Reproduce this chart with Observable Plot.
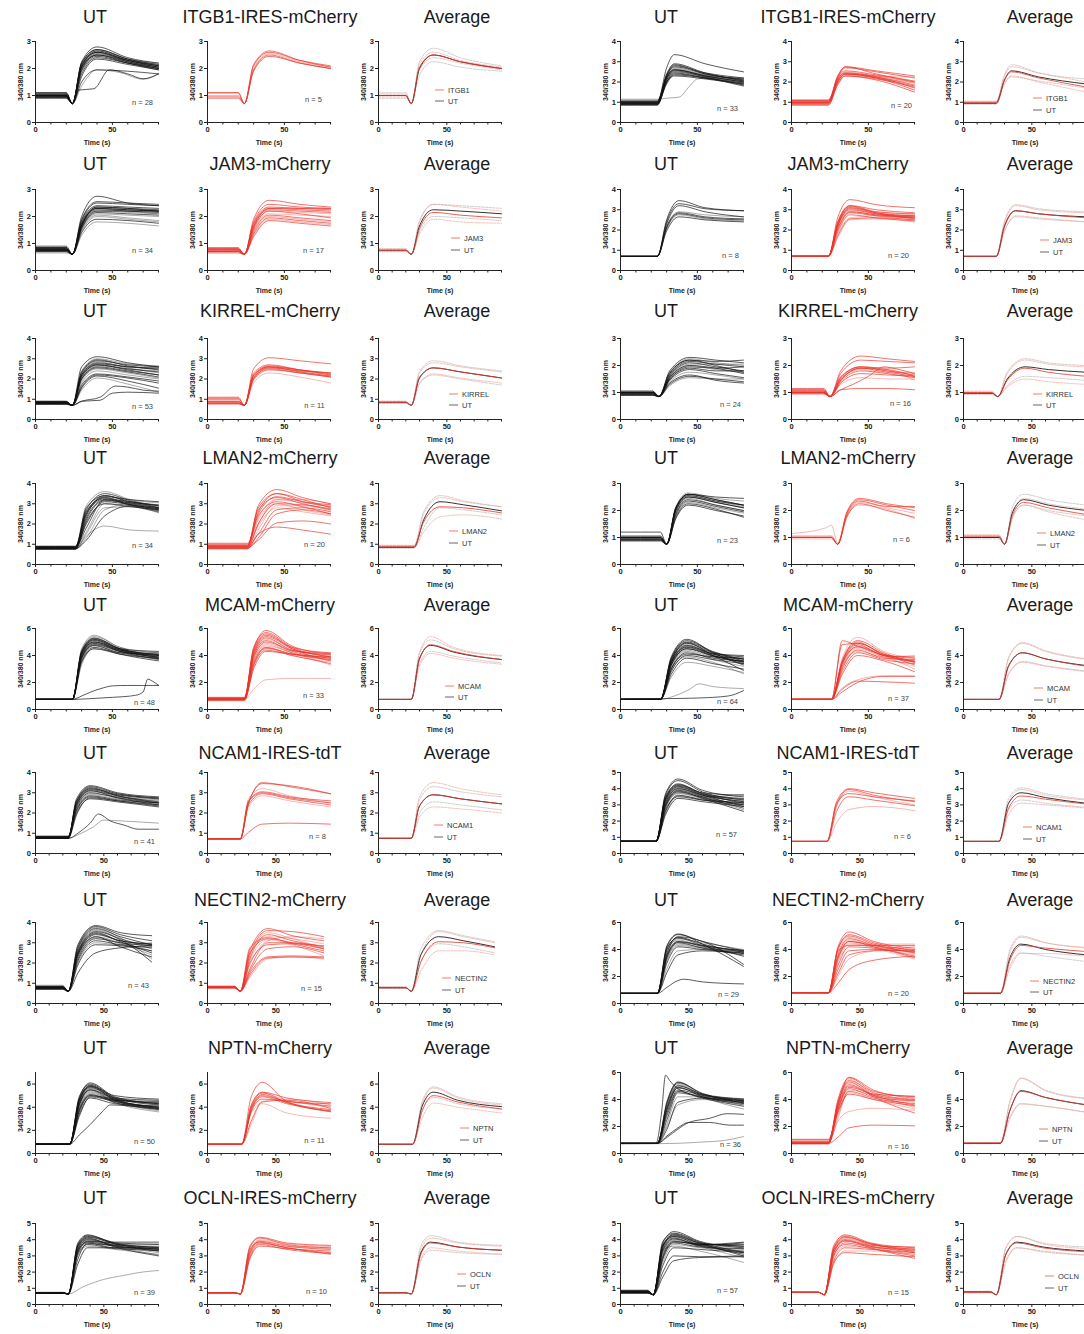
<!DOCTYPE html>
<html><head><meta charset="utf-8">
<script src="https://cdn.jsdelivr.net/npm/d3@7"></script>
<script src="https://cdn.jsdelivr.net/npm/@observablehq/plot@0.6"></script>
<style>
html,body{margin:0;padding:0;background:#fff;overflow:hidden;}
#root{position:relative;width:1084px;height:1334px;overflow:hidden;font-family:"Liberation Sans",Arial,sans-serif;}
.title{position:absolute;font-size:18px;color:#1a1a1a;transform:translate(-50%,-50%);white-space:nowrap;}
.panel{position:absolute;}
.panel svg{max-width:none !important;}
</style></head>
<body><div id="root"></div>
<script>
// ---------- labels & counts ----------
const genes = ["ITGB1-IRES-mCherry","JAM3-mCherry","KIRREL-mCherry","LMAN2-mCherry","MCAM-mCherry","NCAM1-IRES-tdT","NECTIN2-mCherry","NPTN-mCherry","OCLN-IRES-mCherry"];
const shortNames = ["ITGB1","JAM3","KIRREL","LMAN2","MCAM","NCAM1","NECTIN2","NPTN","OCLN"];
const nUTA = [28,34,53,34,48,41,43,50,39];
const nExpA = [5,17,11,20,33,8,15,11,10];
const nUTB = [33,8,24,23,64,57,29,36,57];
const nExpB = [20,20,16,6,37,6,20,16,15];
const yMaxA = [3,3,4,4,6,4,4,7,5];
const yMaxB = [4,4,3,3,6,5,6,6,5];
const xMaxTrace = [80,80,80,80,80,90,90,90,90];
const xMaxAvg = 90;
// time knots (s): onset, dip value, rise, peak, mid, end
const onsetA = [24,24,24,26,24,24,24,25,24];
const dipA = [0.7,0.6,0.7,null,null,null,0.6,null,0.65];
const riseA = [30,30,30,33,30,30,31,32,31];
const peakA = [40,40,40,45,38,40,44,40,38];
const midA = [60,60,60,62,55,60,62,58,58];
const endA = [80,80,80,80,80,90,85,90,90];
const avgEndA = [90,90,90,90,90,90,85,90,90];
const onsetB = [24,24,25,30,26,26,27,27,24];
const dipB = [null,null,0.85,0.75,null,null,null,null,0.6];
const riseB = [30,30,32,36,33,33,34,34,31];
const peakB = [35,38,45,44,43,42,42,42,39];
const midB = [55,55,62,62,60,60,60,60,58];
const endB = [80,80,80,80,80,90,90,90,90];
const avgEndB = [90,90,90,90,90,90,90,90,90];

// ---------- traces: [baseline, rise, peak, mid, end] or explicit [[t,v],...] ----------
const ITGB1_A_ut = [[1.05,2.1,2.65,2.3,2.1],[1.0,2.2,2.7,2.35,2.15],[0.95,2.0,2.55,2.25,2.05],[1.1,2.25,2.8,2.4,2.2],[0.9,1.9,2.45,2.2,2.0],[1.0,2.1,2.6,2.3,2.1],[1.05,2.15,2.6,2.3,2.05],[0.95,2.05,2.5,2.2,1.95],[1.0,2.0,2.55,2.3,2.15],[1.1,2.2,2.7,2.35,2.1],[0.92,1.95,2.5,2.25,2.05],[1.02,2.1,2.65,2.35,2.2],[0.98,2.05,2.6,2.25,2.0],[1.0,1.8,2.4,2.2,2.0],[1.05,2.0,2.5,2.3,2.1],[0.95,1.7,2.35,2.15,1.95],[1.0,1.5,1.95,1.9,1.8],
 [[0,0.95],[20,0.95],[24,0.7],[30,1.35],[40,1.95],[55,1.85],[70,1.6],[80,1.8]],
 [[0,1.0],[20,0.98],[24,0.7],[28,1.2],[38,1.25],[48,1.95],[60,1.8],[70,1.62],[80,1.8]]];
const ITGB1_A_exp = [[1.1,2.15,2.65,2.3,2.05],[1.1,2.1,2.6,2.3,2.1],[1.0,2.0,2.55,2.25,2.05],[0.95,1.95,2.5,2.2,2.0],[0.9,1.9,2.45,2.2,2.0]];
const ITGB1_A_avg = [[1.0,2.05,2.5,2.25,2.0],[0.95,1.95,2.4,2.2,1.95],[1.05,2.15,2.6,2.3,2.05],[1.0,2.0,2.5,2.25,2.0],[0.9,1.75,2.25,2.05,1.9],[1.1,2.25,2.75,2.4,2.1]];

const ITGB1_B_ut = [[0.9,2.2,2.6,2.3,2.0],[0.95,2.3,2.75,2.4,2.1],[1.0,2.1,2.5,2.25,1.95],[0.85,2.0,2.45,2.2,1.9],[1.05,2.3,2.8,2.45,2.2],[0.9,2.2,2.65,2.3,2.05],[1.0,2.35,2.85,2.4,2.15],[0.95,2.1,2.55,2.25,1.85],[1.1,2.2,2.7,2.35,2.1],[0.9,2.0,2.4,2.2,1.8],[1.0,2.25,2.6,2.3,2.0],[0.88,2.1,2.5,2.3,2.2],[0.95,1.9,2.35,2.2,1.95],[1.05,2.4,2.9,2.45,2.05],[0.92,2.15,2.6,2.35,2.15],[1.0,2.7,3.35,2.9,2.5],[0.95,2.0,2.3,2.15,1.9],
 [[0,1.15],[24,1.15],[30,1.2],[38,1.25],[45,1.8],[50,2.15],[60,2.2],[80,2.05]]];
const ITGB1_B_exp = [[1.1,2.3,2.75,2.55,2.3],[1.05,2.2,2.7,2.5,2.2],[1.0,2.1,2.45,2.3,1.95],[0.95,2.0,2.4,2.25,1.85],[1.1,2.05,2.4,2.2,1.8],[0.9,1.95,2.35,2.2,1.95],[1.0,2.15,2.45,2.25,1.7],[0.95,2.0,2.4,2.2,1.6],[1.05,2.1,2.5,2.3,2.0],[0.85,1.9,2.3,2.1,1.5],[1.0,2.2,2.55,2.35,2.05],[1.1,2.1,2.4,2.3,2.25],[0.9,1.85,2.3,2.15,1.75],[1.0,2.25,2.75,2.4,2.0]];
const ITGB1_B_avg = [[1.0,2.1,2.5,2.2,1.75],[0.95,1.95,2.3,2.0,1.5],[1.05,2.3,2.75,2.45,2.0],[0.95,2.1,2.55,2.25,1.9],[0.9,1.9,2.25,2.05,1.7],[1.0,2.35,2.85,2.45,2.15]];

const JAM3_A_ut = [[0.75,1.7,2.3,2.25,2.2],[0.8,1.8,2.4,2.35,2.3],[0.7,1.6,2.2,2.15,2.1],[0.85,1.85,2.5,2.45,2.4],[0.75,1.65,2.25,2.2,2.15],[0.7,1.55,2.1,2.05,2.0],[0.8,1.75,2.35,2.3,2.25],[0.9,1.9,2.55,2.5,2.45],[0.65,1.5,2.05,1.95,1.85],[0.75,1.6,2.2,2.2,2.2],[0.8,1.7,2.3,2.25,2.2],[0.7,1.45,2.0,1.9,1.8],[0.75,1.4,1.9,1.85,1.75],[0.85,2.0,2.75,2.5,2.4],[0.72,1.3,1.8,1.75,1.65],[0.78,1.65,2.35,2.3,2.2],[0.8,1.55,2.15,2.1,2.05],[0.7,1.7,2.3,2.2,2.1]];
const JAM3_A_exp = [[0.8,1.9,2.6,2.45,2.35],[0.75,1.8,2.45,2.35,2.3],[0.7,1.6,2.2,2.15,2.1],[0.8,1.7,2.3,2.25,2.2],[0.65,1.45,2.05,1.95,1.85],[0.75,1.5,2.1,2.05,2.0],[0.7,1.35,1.95,1.85,1.75],[0.85,1.75,2.35,2.3,2.25],[0.75,1.3,1.9,1.8,1.7],[0.7,1.55,2.2,2.1,1.95],[0.8,1.65,2.25,2.2,2.15],[0.72,1.4,2.0,1.9,1.8],[0.78,1.6,2.3,2.3,2.3],[0.7,1.25,1.85,1.75,1.65]];
const JAM3_A_avg = [[0.75,1.55,2.15,2.05,1.95],[0.7,1.35,1.9,1.8,1.75],[0.8,1.8,2.45,2.35,2.2],[0.75,1.65,2.25,2.2,2.1],[0.7,1.45,2.0,1.95,1.85],[0.8,1.85,2.45,2.4,2.3]];

const JAM3_B_ut = [[0.7,2.5,3.45,3.1,2.95],[0.7,2.4,3.3,3.05,2.95],[0.7,2.2,2.9,2.75,2.65],[0.7,2.15,2.85,2.65,2.55],[0.7,2.1,2.8,2.6,2.5],[0.7,2.05,2.75,2.55,2.45],[0.7,1.95,2.65,2.5,2.4],[0.7,2.3,3.2,2.9,2.65]];
const JAM3_B_exp = [[0.7,2.6,3.5,3.25,3.1],[0.7,2.4,3.2,3.0,2.85],[0.7,2.3,3.1,2.9,2.75],[0.7,2.2,3.0,2.8,2.7],[0.7,2.35,3.15,2.85,2.6],[0.7,2.1,2.9,2.75,2.6],[0.7,2.2,3.05,2.8,2.55],[0.7,2.0,2.85,2.7,2.6],[0.7,1.8,2.6,2.7,2.65],[0.7,1.7,2.55,2.6,2.5],[0.7,2.25,3.1,2.85,2.7],[0.7,2.15,2.95,2.7,2.5],[0.7,1.9,2.75,2.6,2.45],[0.7,2.3,3.2,2.9,2.8],[0.7,1.6,2.5,2.55,2.4],[0.7,2.05,2.9,2.75,2.65]];
const JAM3_B_avg = [[0.7,2.15,2.95,2.8,2.6],[0.7,1.95,2.7,2.6,2.4],[0.7,2.35,3.2,3.0,2.85],[0.7,2.2,2.95,2.8,2.65],[0.7,1.95,2.65,2.55,2.4],[0.7,2.45,3.25,3.05,2.9]];

const KIRREL_A_ut = [[0.85,2.3,2.9,2.7,2.6],[0.8,2.2,2.8,2.6,2.5],[0.9,2.4,3.0,2.75,2.65],[0.75,2.0,2.6,2.4,2.2],[0.85,2.1,2.7,2.5,2.35],[0.8,2.25,2.85,2.55,2.3],[0.78,2.0,2.55,2.35,2.1],[0.88,2.35,2.95,2.65,2.45],[0.82,1.9,2.5,2.3,2.05],[0.8,2.15,2.7,2.45,2.2],[0.85,2.6,3.1,2.8,2.6],[0.75,1.8,2.4,2.2,2.0],[0.9,2.2,2.75,2.6,2.55],[0.8,1.7,2.25,2.1,1.9],[0.85,2.05,2.65,2.5,2.4],[0.78,1.6,2.2,2.05,1.8],[0.8,1.55,2.15,1.9,1.55],[0.85,1.45,2.05,1.75,1.35],
 [[0,0.85],[20,0.85],[24,0.7],[30,0.9],[42,1.1],[52,1.65],[60,1.6],[70,1.45],[80,1.4]],
 [[0,0.8],[20,0.82],[24,0.7],[30,0.9],[42,0.95],[50,1.3],[60,1.35],[80,1.3]]];
const KIRREL_A_exp = [[1.1,2.5,3.05,2.9,2.75],[0.85,2.2,2.65,2.45,2.3],[0.8,2.1,2.6,2.4,2.2],[0.9,2.15,2.6,2.45,2.25],[1.05,2.3,2.7,2.45,2.2],[0.75,2.0,2.55,2.35,2.15],[0.8,2.05,2.5,2.3,2.1],[1.0,2.2,2.6,2.35,2.15],[0.85,1.8,2.3,2.1,1.8],[0.9,2.05,2.55,2.4,2.3],[0.78,1.95,2.45,2.3,2.1]];
const KIRREL_A_avg = [[0.85,2.1,2.55,2.35,2.05],[0.8,1.8,2.25,2.05,1.8],[0.9,2.3,2.8,2.6,2.35],[0.85,2.05,2.55,2.35,2.05],[0.8,1.75,2.2,2.0,1.7],[0.9,2.35,2.9,2.65,2.4]];

const KIRREL_B_ut = [[1.0,1.8,2.3,2.2,2.1],[0.95,1.75,2.2,2.15,2.2],[1.05,1.7,2.25,2.1,2.0],[0.9,1.6,2.1,1.95,1.8],[1.0,1.65,2.15,2.05,1.95],[0.95,1.55,2.0,1.85,1.75],[1.0,1.5,1.9,1.8,1.8],[0.92,1.45,1.85,1.7,1.55],[1.02,1.4,1.75,1.65,1.5],[0.98,1.3,1.6,1.5,1.4],[0.95,1.35,1.65,1.45,1.35],[1.0,1.6,2.05,2.05,2.05],[0.9,1.7,2.2,2.0,1.75],[1.05,1.5,1.95,1.9,1.95],[0.95,1.25,1.55,1.5,1.5],[1.0,1.55,2.0,1.9,1.7]];
const KIRREL_B_exp = [[1.15,1.8,2.35,2.25,2.15],[1.1,1.7,2.2,2.15,2.1],[1.05,1.5,1.9,1.8,1.7],[1.0,1.55,1.95,1.8,1.65],[0.95,1.45,1.9,1.75,1.6],[1.1,1.5,1.85,1.75,1.75],[1.0,1.4,1.8,1.7,1.55],[1.05,1.45,1.9,1.85,1.6],[0.95,1.3,1.55,1.5,1.5],[1.0,1.1,1.15,1.15,1.1],
 [[0,1.0],[21,1.0],[25,0.85],[32,1.1],[40,1.3],[50,1.6],[60,1.95],[70,1.85],[80,1.7]],
 [1.1,1.6,1.95,1.85,1.45],[1.05,1.55,1.95,1.9,1.95],[0.98,1.35,1.7,1.65,1.6]];
const KIRREL_B_avg = [[1.0,1.45,1.9,1.75,1.6],[0.95,1.2,1.5,1.4,1.3],[1.05,1.7,2.2,2.05,1.95],[0.97,1.5,1.95,1.85,1.75],[0.92,1.25,1.6,1.55,1.45],[1.02,1.75,2.25,2.1,2.0]];

const LMAN2_A_ut = [[0.85,2.8,3.4,3.1,2.9],[0.8,2.6,3.3,3.0,2.8],[0.9,2.9,3.6,3.2,3.05],[0.75,2.3,3.2,2.95,2.75],[0.85,2.0,3.1,2.95,2.7],[0.8,1.6,3.0,2.9,2.6],[0.82,2.5,3.25,2.95,2.65],[0.88,2.7,3.5,3.15,2.9],[0.78,1.3,2.7,3.0,2.85],[0.8,2.2,3.15,3.05,2.95],[0.85,1.8,3.2,3.1,2.8],[0.75,1.5,2.8,2.85,2.55],[0.9,2.4,3.35,3.2,3.1],[0.8,2.1,3.0,2.85,2.7],[0.85,2.65,3.3,2.9,2.6],[0.78,1.2,2.4,2.9,2.75],[0.82,2.5,3.4,3.05,2.8],[0.8,1.4,1.9,1.7,1.65]];
const LMAN2_A_exp = [[0.9,2.9,3.7,3.3,3.0],[0.85,2.6,3.5,3.1,2.85],[1.0,2.3,3.2,3.05,2.9],[0.8,2.0,3.0,2.95,2.75],[0.95,2.7,3.3,3.0,2.7],[0.75,1.7,2.9,2.9,2.65],[1.05,2.4,3.1,2.85,2.5],[0.9,1.5,2.7,2.8,2.6],[0.85,2.2,3.0,2.7,2.45],[0.8,1.3,2.5,2.7,2.5],[0.95,2.5,3.35,3.1,2.95],[0.9,1.9,2.8,2.6,2.4],[0.85,1.2,2.05,2.15,2.0],[0.8,1.5,1.85,1.7,1.5],[1.0,2.0,3.2,3.2,3.0],[0.88,2.8,3.5,3.2,2.8]];
const LMAN2_A_avg = [[0.9,2.1,2.85,2.8,2.55],[0.85,1.6,2.35,2.45,2.25],[0.95,2.5,3.3,3.1,2.85],[0.85,2.2,3.1,2.95,2.65],[0.8,1.8,2.8,2.7,2.45],[0.9,2.6,3.4,3.15,2.85]];

const LMAN2_B_ut = [[1.0,2.1,2.55,2.35,2.2],[0.95,2.0,2.5,2.3,2.1],[1.05,2.15,2.65,2.45,2.35],[0.9,1.9,2.4,2.2,2.0],[1.0,2.05,2.6,2.5,2.45],[0.85,1.8,2.3,2.1,1.9],[1.2,2.1,2.6,2.4,2.2],[0.95,1.7,2.2,2.0,1.8],[1.0,1.95,2.45,2.2,2.0],[0.9,1.75,2.25,2.05,1.75],[1.05,2.0,2.5,2.3,2.1],[0.98,2.05,2.55,2.35,2.15],[0.92,1.85,2.35,2.15,1.95],[1.0,2.1,2.6,2.4,2.2]];
const LMAN2_B_exp = [[1.05,1.95,2.45,2.25,2.1],[1.0,1.9,2.4,2.2,2.0],[0.95,1.8,2.3,2.1,1.9],[1.0,1.75,2.25,2.0,1.75],[1.0,1.85,2.35,2.15,2.15],
 [[0,1.15],[15,1.25],[22,1.35],[26,1.45],[30,0.8],[36,1.8],[44,2.2],[62,2.05],[80,1.7]]];
const LMAN2_B_avg = [[1.05,1.85,2.3,2.1,1.85],[1.0,1.75,2.2,1.95,1.65],[1.1,1.95,2.45,2.25,2.05],[1.0,1.95,2.4,2.2,2.0],[0.95,1.75,2.2,2.0,1.8],[1.05,2.15,2.6,2.4,2.2]];

const MCAM_A_ut = [[0.75,4.3,5.3,4.5,4.0],[0.75,4.1,5.1,4.4,4.1],[0.75,4.5,5.5,4.6,4.2],[0.75,3.9,4.9,4.3,3.9],[0.75,4.0,5.0,4.4,3.8],[0.75,3.7,4.7,4.2,3.7],[0.75,4.2,5.2,4.5,4.3],[0.75,3.8,4.8,4.3,4.0],[0.75,4.4,5.4,4.6,3.9],[0.75,3.6,4.6,4.1,3.6],[0.75,4.1,5.0,4.3,3.75],[0.75,3.9,4.85,4.4,4.2],[0.75,4.3,5.25,4.5,4.05],[0.75,3.5,4.5,4.1,3.8],[0.75,4.0,4.95,4.35,3.95],[0.75,4.2,5.15,4.45,3.85],[0.75,3.8,4.75,4.2,4.1],[0.75,3.3,4.5,4.2,3.7],
 [[0,0.75],[24,0.75],[30,1.0],[36,1.3],[44,1.6],[50,1.75],[60,1.78],[80,1.78]],
 [[0,0.75],[24,0.75],[35,0.8],[50,0.9],[65,1.05],[70,1.3],[73,2.25],[76,2.1],[80,1.8]]];
const MCAM_A_exp = [[0.8,4.5,5.85,4.7,4.1],[0.75,4.3,5.5,4.6,4.2],[0.7,4.0,5.2,4.4,4.0],[0.85,4.2,5.4,4.5,3.9],[0.75,3.8,5.0,4.3,3.8],[0.65,3.6,4.8,4.2,3.7],[0.8,3.5,4.6,4.1,3.9],[0.9,4.4,5.6,4.5,3.6],[0.75,3.4,4.5,4.0,3.5],[0.7,3.2,4.4,4.0,3.4],[0.8,4.1,5.3,4.4,4.05],[0.75,3.9,4.9,4.2,3.6],[0.85,4.6,5.7,4.6,3.9],[0.7,3.0,4.3,4.1,3.8],[0.75,3.7,4.7,4.2,3.3],[0.8,4.0,5.1,4.35,4.15],[0.75,3.3,4.55,4.1,3.7],[0.75,1.5,2.2,2.3,2.3]];
const MCAM_A_avg = [[0.75,3.7,4.8,4.3,3.7],[0.75,3.2,4.15,3.8,3.35],[0.75,4.2,5.4,4.6,4.0],[0.75,3.8,4.75,4.25,3.7],[0.75,3.4,4.3,3.95,3.45],[0.75,4.2,5.15,4.5,3.95]];

const MCAM_B_ut = [[0.75,3.8,5.1,4.3,3.7],[0.75,3.6,4.9,4.2,3.9],[0.75,3.5,4.7,4.1,3.6],[0.75,3.3,4.5,4.0,3.5],[0.75,3.9,5.2,4.2,3.3],[0.75,3.2,4.4,3.9,3.8],[0.75,3.4,4.6,4.0,3.4],[0.75,3.0,4.2,3.8,3.6],[0.75,3.7,4.8,4.1,3.5],[0.75,2.8,4.0,3.7,3.4],[0.75,3.5,4.75,4.15,4.0],[0.75,3.1,4.3,3.7,3.2],[0.75,2.6,3.8,3.4,3.0],[0.75,3.6,4.95,4.0,2.9],[0.75,2.4,3.5,3.2,2.75],[0.75,3.3,4.5,3.95,3.55],[0.75,3.0,4.1,3.9,3.8],[0.75,2.9,3.9,3.5,2.65],[0.75,3.45,4.65,4.1,3.75],[0.75,3.75,5.0,4.25,3.6],
 [[0,0.75],[26,0.75],[35,1.0],[45,1.5],[51,1.9],[60,1.7],[80,1.55]],
 [[0,0.75],[26,0.8],[50,0.85],[70,1.0],[80,1.4]]];
const MCAM_B_exp = [[0.75,5.1,4.7,4.0,3.5],[0.75,4.8,4.9,4.1,3.6],[0.75,3.8,5.35,4.3,3.8],[0.75,3.6,5.1,4.2,3.5],[0.75,3.4,4.8,4.0,3.9],[0.75,3.2,4.6,3.9,3.6],[0.75,3.5,4.9,4.1,3.3],[0.75,3.0,4.4,3.8,3.7],[0.75,3.3,4.7,4.0,3.0],[0.75,2.8,4.2,3.7,3.4],[0.75,3.6,5.0,4.05,3.8],[0.75,3.1,4.5,3.85,3.2],[0.75,2.6,4.0,3.6,2.8],[0.75,3.4,4.65,4.0,3.55],[0.75,3.2,4.3,3.9,4.0],[0.75,1.5,2.1,2.05,1.95],[0.75,1.3,2.0,2.45,2.45],[0.75,1.6,2.2,2.5,2.5]];
const MCAM_B_avg = [[0.75,3.2,4.2,3.75,3.2],[0.75,2.6,3.5,3.2,2.8],[0.75,3.8,4.9,4.3,3.7],[0.75,3.25,4.2,3.75,3.25],[0.75,2.65,3.55,3.25,2.85],[0.75,3.85,4.95,4.35,3.75]];

const NCAM1_A_ut = [[0.8,2.6,3.3,2.95,2.75],[0.75,2.5,3.2,2.9,2.7],[0.8,2.4,3.1,2.8,2.6],[0.85,2.3,3.0,2.75,2.5],[0.75,2.7,3.35,3.0,2.8],[0.8,2.2,2.9,2.7,2.45],[0.78,2.45,3.15,2.85,2.55],[0.82,2.1,2.8,2.6,2.35],[0.75,2.35,3.05,2.9,2.75],[0.8,2.0,2.7,2.55,2.3],[0.85,2.55,3.25,2.85,2.5],[0.75,2.25,2.95,2.8,2.65],[0.8,2.4,3.1,2.75,2.4],[0.78,2.15,2.85,2.65,2.5],[0.8,2.6,3.2,2.95,2.7],[0.75,1.9,2.75,2.6,2.4],
 [[0,0.75],[24,0.75],[32,1.05],[40,1.5],[46,1.95],[55,1.6],[65,1.4],[75,1.2],[90,1.2]],
 [[0,0.8],[24,0.75],[32,0.95],[42,1.3],[50,1.65],[65,1.6],[90,1.5]]];
const NCAM1_A_exp = [[0.72,2.5,3.45,3.35,2.95],[0.72,2.45,3.5,3.3,2.95],[0.72,2.7,3.2,2.85,2.5],[0.72,2.6,3.05,2.8,2.6],[0.72,2.4,2.95,2.7,2.4],[0.72,2.3,2.85,2.6,2.3],[0.72,2.55,3.0,2.75,2.5],[0.72,1.05,1.45,1.5,1.45]];
const NCAM1_A_avg = [[0.75,2.35,2.9,2.7,2.45],[0.75,1.8,2.3,2.2,2.0],[0.75,2.8,3.5,3.2,2.9],[0.75,2.35,2.9,2.7,2.45],[0.75,2.0,2.55,2.4,2.15],[0.75,2.65,3.3,3.05,2.8]];

const NCAM1_B_ut = [[0.75,3.6,4.5,3.8,3.3],[0.75,3.4,4.2,3.7,3.4],[0.75,3.2,4.0,3.6,3.2],[0.75,3.0,3.9,3.5,3.0],[0.75,3.5,4.3,3.75,3.6],[0.75,2.8,3.7,3.4,3.1],[0.75,3.3,4.1,3.6,2.9],[0.75,2.6,3.6,3.3,3.0],[0.75,3.1,3.95,3.55,3.25],[0.75,2.9,3.8,3.45,2.8],[0.75,3.7,4.6,3.9,3.5],[0.75,3.25,4.05,3.5,2.7],[0.75,2.7,3.5,3.3,3.15],[0.75,3.35,4.15,3.65,3.35],[0.75,2.5,3.55,3.35,3.05],[0.75,3.0,3.85,3.4,2.6],[0.75,3.45,4.25,3.7,3.1],[0.75,2.85,3.75,3.5,3.65],[0.75,3.15,4.0,3.6,3.2],[0.75,2.4,3.4,3.2,2.9]];
const NCAM1_B_exp = [[0.75,3.2,4.0,3.75,3.4],[0.75,3.0,3.95,3.6,3.2],[0.75,2.9,3.85,3.5,3.0],[0.75,3.1,3.7,3.5,3.25],[0.75,2.6,3.5,3.3,2.95],[0.75,1.9,2.7,2.9,2.65]];
const NCAM1_B_avg = [[0.75,2.8,3.55,3.35,3.05],[0.75,2.4,3.1,3.0,2.8],[0.75,3.2,3.95,3.6,3.3],[0.75,3.1,3.75,3.45,3.1],[0.75,2.7,3.3,3.1,2.85],[0.75,3.4,4.05,3.7,3.35]];

const NECTIN2_A_ut = [[0.8,2.8,3.8,3.4,3.1],[0.75,2.7,3.7,3.3,2.9],[0.85,2.6,3.6,3.2,2.8],[0.7,2.4,3.4,3.1,2.9],[0.8,2.9,3.85,3.5,3.35],[0.9,2.3,3.3,3.0,2.6],[0.75,2.5,3.5,3.05,2.5],[0.8,2.2,3.2,3.0,2.85],[0.72,2.6,3.65,3.2,2.7],[0.85,2.1,3.1,2.9,2.75],[0.78,2.4,3.3,2.8,2.3],[0.8,2.0,3.0,2.9,3.0],[0.75,2.55,3.55,3.15,2.05],[0.82,1.9,2.9,2.85,2.6],[0.7,2.3,3.25,2.95,2.4],[0.8,1.5,2.5,2.75,2.85],[0.76,2.45,3.45,3.1,2.95],[0.84,2.75,3.75,3.25,2.2]];
const NECTIN2_A_exp = [[0.8,2.4,3.6,3.55,3.3],[0.8,2.6,3.7,3.35,3.1],[0.75,2.8,3.3,3.2,2.95],[0.85,2.2,3.4,3.1,2.8],[0.8,2.5,3.2,3.0,2.7],[0.78,1.9,3.1,3.3,3.2],[0.82,2.7,3.25,2.95,2.6],[0.8,1.7,3.0,3.0,2.7],[0.75,2.3,3.5,3.2,2.75],[0.85,2.0,2.9,2.95,2.85],[0.8,1.6,2.7,2.8,2.5],[0.78,1.3,2.2,2.3,2.2],[0.8,1.4,2.25,2.3,2.25],[0.82,1.5,2.3,2.35,2.3],[0.76,2.1,3.15,2.9,2.35]];
const NECTIN2_A_avg = [[0.78,2.05,3.05,3.0,2.75],[0.75,1.6,2.6,2.6,2.4],[0.82,2.4,3.55,3.3,3.0],[0.78,2.4,3.3,3.1,2.8],[0.74,2.1,2.95,2.8,2.5],[0.82,2.7,3.6,3.35,3.05]];

const NECTIN2_B_ut = [[0.75,4.2,5.1,4.6,3.9],[0.75,4.0,4.9,4.4,3.8],[0.75,3.8,4.8,4.5,4.0],[0.75,4.3,5.15,4.4,2.75],[0.75,3.6,4.6,4.3,3.9],[0.75,3.9,4.7,4.2,3.7],[0.75,3.4,4.5,4.1,3.6],[0.75,3.7,4.95,4.6,2.9],[0.75,3.2,4.3,4.1,3.85],[0.75,3.0,4.2,4.0,3.75],[0.75,3.5,4.55,4.25,3.5],[0.75,2.6,3.9,4.0,3.8],[0.75,4.1,4.85,4.3,3.95],[0.75,2.3,3.6,3.9,3.7],[0.75,3.3,4.4,4.15,3.85],
 [[0,0.75],[27,0.75],[34,1.2],[42,1.7],[46,1.8],[60,1.6],[90,1.45]]];
const NECTIN2_B_exp = [[0.8,4.2,5.3,4.6,4.1],[0.8,4.0,5.1,4.5,3.9],[0.8,3.8,4.9,4.4,4.4],[0.8,3.6,4.8,4.3,3.8],[0.8,3.3,4.6,4.3,4.0],[0.8,3.0,4.4,4.2,3.7],[0.8,3.9,4.3,4.3,4.3],[0.8,2.8,4.2,4.1,3.5],[0.8,3.5,4.7,4.2,3.6],[0.8,2.5,3.9,4.0,3.85],[0.8,2.2,3.6,3.9,3.95],[0.8,3.2,4.5,4.1,3.3],[0.8,4.1,5.0,4.4,3.75],[0.8,1.5,2.5,3.2,3.5],[0.8,2.0,3.3,3.9,4.2],[0.8,3.4,4.6,4.2,3.4]];
const NECTIN2_B_avg = [[0.78,3.2,4.3,4.1,3.85],[0.75,2.6,3.7,3.7,3.5],[0.8,3.8,4.9,4.5,4.15],[0.75,3.4,4.4,4.0,3.6],[0.72,2.8,3.75,3.5,3.1],[0.78,4.0,5.0,4.5,4.1]];

const NPTN_A_ut = [[0.8,4.8,6.1,4.9,4.3],[0.8,4.6,5.9,4.8,4.2],[0.8,4.4,5.7,4.7,4.0],[0.8,4.2,5.5,4.6,4.4],[0.8,4.9,6.0,4.75,3.9],[0.8,4.0,5.3,4.5,4.1],[0.8,4.5,5.8,5.0,4.7],[0.8,3.8,5.1,4.4,3.8],[0.8,4.3,5.6,4.55,3.7],[0.8,3.6,5.0,4.6,4.5],[0.8,4.7,5.85,4.65,4.0],[0.8,4.1,5.4,4.4,3.6],[0.8,3.4,4.8,4.3,4.1],[0.8,4.25,5.5,4.8,4.6],[0.8,3.9,5.2,4.5,3.95],[0.8,4.55,5.75,4.6,3.85],[0.8,3.7,5.0,4.7,4.3],[0.8,4.35,5.65,4.85,4.25],[0.8,3.2,4.9,4.5,4.0],
 [[0,0.8],[25,0.8],[32,1.6],[40,2.5],[48,3.5],[55,4.2],[70,4.1],[90,3.9]]];
const NPTN_A_exp = [[0.8,4.9,6.15,4.5,3.7],[0.8,4.2,5.3,4.8,4.4],[0.8,4.1,5.2,4.6,4.0],[0.8,3.9,5.0,4.5,4.3],[0.8,3.6,4.7,4.5,4.1],[0.8,2.5,4.5,4.7,4.2],[0.8,3.8,5.1,4.4,3.8],[0.8,4.0,5.25,4.4,3.6],[0.8,3.5,4.3,3.5,3.05],[0.8,2.8,4.45,4.6,3.9],[0.8,3.7,4.9,4.3,3.65]];
const NPTN_A_avg = [[0.8,3.7,5.0,4.45,3.85],[0.8,3.1,4.35,4.0,3.5],[0.8,4.3,5.65,4.8,4.2],[0.8,4.1,5.3,4.6,4.05],[0.8,3.7,4.85,4.3,3.85],[0.8,4.5,5.75,4.9,4.3]];

const NPTN_B_ut = [[[0,0.75],[26,0.75],[30,3.0],[33,5.8],[36,5.4],[42,4.8],[60,4.2],[90,3.8]],
 [0.75,3.8,5.3,4.4,3.9],[0.75,3.6,5.1,4.3,3.8],[0.75,3.4,5.0,4.4,4.05],[0.75,3.2,4.9,4.2,3.7],[0.75,3.9,5.2,4.3,3.6],[0.75,3.0,4.7,4.3,3.95],[0.75,2.8,4.6,4.1,3.5],[0.75,3.5,5.05,4.2,3.3],[0.75,2.5,4.5,4.15,3.85],[0.75,3.3,4.85,4.35,4.0],[0.75,2.2,4.2,4.2,3.7],[0.75,1.8,3.8,4.1,3.9],[0.75,3.7,5.25,4.45,3.75],[0.75,2.0,3.6,4.0,3.6],
 [[0,0.75],[27,0.75],[34,1.2],[42,1.8],[50,2.3],[65,2.6],[78,2.95],[90,2.9]],
 [[0,0.75],[27,0.75],[34,1.3],[42,1.9],[50,2.3],[65,2.3],[80,2.1],[90,2.1]],
 [[0,0.7],[40,0.75],[60,0.85],[75,0.95],[90,1.25]]];
const NPTN_B_exp = [[0.75,4.0,5.6,4.6,4.2],[0.8,3.8,5.4,4.5,4.0],[0.7,3.6,5.2,4.4,3.8],[1.05,3.4,5.0,4.3,3.6],[0.75,3.2,4.8,4.2,3.9],[0.8,3.9,5.5,4.3,3.5],[0.9,3.0,4.6,4.1,3.7],[0.75,3.5,5.1,4.4,4.25],[0.7,2.8,4.5,4.0,3.3],[0.85,3.7,5.3,4.2,3.0],[0.75,3.3,4.9,4.35,3.95],[0.8,2.6,4.7,4.3,3.4],[1.0,3.1,4.4,4.0,3.55],[0.75,3.6,5.65,4.7,4.1],[0.75,2.4,3.1,3.35,3.2],[0.75,1.2,1.9,2.1,2.05]];
const NPTN_B_avg = [[0.78,3.2,4.6,4.15,3.6],[0.75,2.6,3.65,3.5,3.05],[0.82,3.9,5.6,4.7,4.1],[0.75,3.2,4.65,4.15,3.6],[0.72,2.7,3.7,3.5,3.05],[0.78,3.8,5.55,4.65,4.05]];

const OCLN_A_ut = [[0.72,3.7,4.25,3.8,3.5],[0.7,3.6,4.15,3.75,3.4],[0.75,3.5,4.05,3.7,3.6],[0.7,3.4,4.0,3.65,3.3],[0.72,3.8,4.3,3.85,3.85],[0.68,3.3,3.9,3.6,3.2],[0.72,3.55,4.1,3.55,3.0],[0.7,3.2,3.8,3.5,3.5],[0.75,3.45,3.95,3.7,3.75],[0.7,3.1,3.7,3.45,3.35],[0.72,3.65,4.2,3.75,3.3],[0.7,3.0,3.6,3.4,3.1],[0.74,3.35,3.85,3.6,3.45],[0.7,2.8,3.75,3.65,3.55],[0.72,3.5,4.05,3.6,3.05],[0.7,2.5,3.5,3.5,3.4],[0.73,3.25,3.9,3.8,3.7],
 [[0,0.72],[20,0.72],[24,0.65],[35,1.1],[50,1.55],[65,1.8],[78,2.0],[90,2.1]]];
const OCLN_A_exp = [[0.72,3.6,4.15,3.8,3.65],[0.72,3.5,4.1,3.7,3.5],[0.72,3.3,4.0,3.75,3.6],[0.72,3.2,3.9,3.6,3.4],[0.72,3.4,3.85,3.5,3.2],[0.72,3.0,3.75,3.55,3.55],[0.72,3.1,3.8,3.5,3.1],[0.72,2.8,3.6,3.45,3.3],[0.72,3.25,3.95,3.65,3.45],[0.72,2.9,3.7,3.4,3.15]];
const OCLN_A_avg = [[0.72,3.1,3.8,3.55,3.35],[0.7,2.8,3.5,3.3,3.1],[0.75,3.4,4.1,3.8,3.6],[0.72,3.2,3.85,3.55,3.35],[0.7,2.7,3.35,3.2,3.1],[0.75,3.6,4.25,3.85,3.65]];

const OCLN_B_ut = [[0.8,3.8,4.5,3.9,3.5],[0.75,3.7,4.3,3.8,3.6],[0.85,3.5,4.2,3.7,3.3],[0.7,3.4,4.1,3.65,3.8],[0.8,3.9,4.4,3.85,3.2],[0.9,3.2,4.0,3.6,3.4],[0.75,3.6,4.25,3.75,3.1],[0.8,3.0,3.9,3.7,3.7],[0.72,3.45,4.15,3.6,2.9],[0.85,2.8,3.8,3.55,3.45],[0.78,3.3,4.05,3.7,3.85],[0.8,2.6,3.7,3.5,3.3],[0.74,3.55,4.35,3.8,3.0],[0.82,2.4,3.5,3.4,3.2],[0.76,3.1,3.95,3.6,3.55],[0.8,2.0,3.0,2.95,3.0],[0.78,1.7,2.7,2.9,2.95],[0.85,3.35,3.6,3.3,2.6],[0.7,3.65,4.2,3.65,3.25],[0.8,2.9,3.85,3.75,3.6]];
const OCLN_B_exp = [[0.75,3.6,4.3,3.8,3.5],[0.75,3.5,4.2,3.75,3.4],[0.75,3.4,4.1,3.7,3.3],[0.75,3.3,4.0,3.65,3.55],[0.75,3.2,3.9,3.6,3.2],[0.75,3.7,4.25,3.6,3.1],[0.75,3.0,3.8,3.55,3.35],[0.75,3.1,3.7,3.45,3.0],[0.75,2.9,3.6,3.5,3.45],[0.75,2.7,3.5,3.4,3.2],[0.75,3.45,4.15,3.75,3.25],[0.75,2.5,3.3,3.3,3.1],[0.75,3.25,3.95,3.5,2.85],[0.75,2.6,3.2,3.1,2.95],[0.75,3.35,4.05,3.7,3.4]];
const OCLN_B_avg = [[0.75,3.1,3.8,3.5,3.25],[0.72,2.7,3.5,3.3,3.05],[0.78,3.5,4.2,3.75,3.45],[0.78,3.1,3.85,3.55,3.3],[0.74,2.6,3.5,3.25,3.05],[0.82,3.5,4.2,3.8,3.55]];

const setsA = [[ITGB1_A_ut,ITGB1_A_exp,ITGB1_A_avg],[JAM3_A_ut,JAM3_A_exp,JAM3_A_avg],[KIRREL_A_ut,KIRREL_A_exp,KIRREL_A_avg],[LMAN2_A_ut,LMAN2_A_exp,LMAN2_A_avg],[MCAM_A_ut,MCAM_A_exp,MCAM_A_avg],[NCAM1_A_ut,NCAM1_A_exp,NCAM1_A_avg],[NECTIN2_A_ut,NECTIN2_A_exp,NECTIN2_A_avg],[NPTN_A_ut,NPTN_A_exp,NPTN_A_avg],[OCLN_A_ut,OCLN_A_exp,OCLN_A_avg]];
const setsB = [[ITGB1_B_ut,ITGB1_B_exp,ITGB1_B_avg],[JAM3_B_ut,JAM3_B_exp,JAM3_B_avg],[KIRREL_B_ut,KIRREL_B_exp,KIRREL_B_avg],[LMAN2_B_ut,LMAN2_B_exp,LMAN2_B_avg],[MCAM_B_ut,MCAM_B_exp,MCAM_B_avg],[NCAM1_B_ut,NCAM1_B_exp,NCAM1_B_avg],[NECTIN2_B_ut,NECTIN2_B_exp,NECTIN2_B_avg],[NPTN_B_ut,NPTN_B_exp,NPTN_B_avg],[OCLN_B_ut,OCLN_B_exp,OCLN_B_avg]];

// ---------- layout (pixels) ----------
const axisX = [35,207,378,620,791,963];
const titleX = [95,270,457,666,848,1040];
const titleY = [17,164,311,458,605,753,900,1048,1198];
const plotTop = [41,189,338,483,628,772,922,1072,1223];
const nPosUTA = [[107,61],[107,61],[107,68],[107,62],[109,74],[109,69],[103,63],[109,69],[109,69]];
const nPosExpA = [[106,58],[106,61],[107,67],[107,61],[106,67],[110,64],[104,66],[107,68],[109,68]];
const nPosUTB = [[107,67],[110,66],[110,66],[107,57],[107,73],[106,62],[108,72],[110,72],[107,67]];
const nPosExpB = [[110,64],[107,66],[109,65],[110,56],[107,70],[111,64],[107,71],[107,74],[107,69]];
const legPosA = [[70,49,60],[86,49,61],[84,56,67],[84,48,60],[80,58,69],[69,53,65],[77,56,68],[95,56,68],[92,51,63]];
const legPosB = [[83,57,69],[90,51,63],[83,56,67],[87,50,62],[84,60,72],[73,55,67],[80,59,70],[89,57,69],[95,53,65]];

const ML = 30, MT = 8, MR = 8, MB = 30, PW = 123, PH = 81;
const FONT = "Liberation Sans, Arial, Helvetica, sans-serif";
const RED = "#e8352b", BLACK = "#111";

function traceRows(traces, k) {
  const out = [];
  traces.forEach((tr, i) => {
    let pts;
    if (Array.isArray(tr[0])) pts = tr;
    else {
      const [b, r, p, m, e] = tr;
      pts = [[0, b]];
      if (k.dip != null) pts.push([k.t0 - 4, b], [k.t0, k.dip]); else pts.push([k.t0, b]);
      pts.push([k.tR, r], [k.tP, p], [k.tM, m], [k.tEnd, e]);
    }
    for (const [t, v] of pts) out.push({t, v, id: i, light: i % 3 === 2});
  });
  return out;
}

function frameMarks(xMax, yMax) {
  const yStep = yMax >= 6 ? 2 : 1;
  const yTicks = d3.range(0, yMax + 0.001, yStep);
  const minor = d3.range(10, xMax + 0.001, 10).filter(v => v !== 50);
  return [
    Plot.axisY({ticks: yTicks, tickSize: 3, tickPadding: 1.5, tickFormat: d3.format("d"), label: null, stroke: "#222", fontSize: 7.5}),
    Plot.axisX({ticks: [0, 50], tickSize: 3, tickPadding: 1.5, tickFormat: d3.format("d"), label: null, stroke: "#222", fontSize: 7.5}),
    Plot.axisX({ticks: minor, tickSize: 2.5, tickFormat: () => "", label: null, stroke: "#222"}),
    Plot.ruleX([0], {stroke: "#222", strokeWidth: 1}),
    Plot.ruleY([0], {stroke: "#222", strokeWidth: 1}),
    Plot.text(["340/380 nm"], {frameAnchor: "left", dx: -15, rotate: -90, textAnchor: "middle", lineAnchor: "middle", fontSize: 7, fill: "#222"}),
    Plot.text(["Time (s)"], {frameAnchor: "bottom", dy: 20, textAnchor: "middle", lineAnchor: "middle", fontSize: 7, fill: "#222"})
  ];
}

function makePlot(xMax, yMax, marks) {
  return Plot.plot({
    width: ML + PW + MR, height: MT + PH + MB,
    marginLeft: ML, marginRight: MR, marginTop: MT, marginBottom: MB,
    x: {domain: [0, xMax]}, y: {domain: [0, yMax]},
    style: {fontFamily: FONT, fontSize: "7px", fontWeight: "bold", overflow: "visible", background: "transparent", color: "#222", maxWidth: "none"},
    marks: [...marks, ...frameMarks(xMax, yMax)]
  });
}

const root = document.getElementById("root");
function place(el, left, top) {
  const d = document.createElement("div");
  d.className = "panel"; d.style.left = left + "px"; d.style.top = top + "px";
  d.style.width = (ML + PW + MR) + "px"; d.style.height = (MT + PH + MB) + "px";
  el.style.maxWidth = "none";
  d.appendChild(el); root.appendChild(d);
}
function title(text, x, y) {
  const d = document.createElement("div");
  d.className = "title"; d.textContent = text;
  d.style.left = x + "px"; d.style.top = y + "px";
  root.appendChild(d);
}

function tracePanel(traces, k, xMax, yMax, color, n, pos, col, row) {
  const rows = traceRows(traces, k);
  const marks = [
    Plot.line(rows.filter(d => d.light), {x: "t", y: "v", z: "id", curve: "monotone-x", stroke: color, strokeWidth: 0.65, strokeOpacity: 0.55}),
    Plot.line(rows.filter(d => !d.light), {x: "t", y: "v", z: "id", curve: "monotone-x", stroke: color, strokeWidth: 0.75, strokeOpacity: 0.92}),
    Plot.text([`n = ${n}`], {frameAnchor: "top-left", dx: pos[0], dy: pos[1], textAnchor: "middle", lineAnchor: "middle", fontSize: 7.5, fontWeight: "normal", fill: "#444"})
  ];
  place(makePlot(xMax, yMax, marks), axisX[col] - ML, plotTop[row] - MT);
}

function avgPanel(avg, k, yMax, name, leg, col, row) {
  const labels = ["expMean", "expLo", "expHi", "utMean", "utLo", "utHi"];
  const rows = traceRows(avg, k).map(d => ({...d, kind: labels[d.id]}));
  const sel = kind => rows.filter(d => d.kind === kind);
  const marks = [
    Plot.line(sel("utLo").concat(sel("utHi")), {x: "t", y: "v", z: "id", curve: "monotone-x", stroke: "#b8b8b8", strokeWidth: 0.7, strokeDasharray: "2.5,1.2"}),
    Plot.line(sel("expLo").concat(sel("expHi")), {x: "t", y: "v", z: "id", curve: "monotone-x", stroke: "#f5a49b", strokeWidth: 0.7, strokeDasharray: "2.5,1.2"}),
    Plot.line(sel("utMean"), {x: "t", y: "v", curve: "monotone-x", stroke: "#333", strokeWidth: 1}),
    Plot.line(sel("expMean"), {x: "t", y: "v", curve: "monotone-x", stroke: RED, strokeWidth: 1, strokeOpacity: 0.8})
  ];
  const svg = makePlot(xMaxAvg, yMax, marks);
  const s = d3.select(svg);
  const [lx, ly1, ly2] = leg;
  const items = [[name, "#f07a6e", ly1], ["UT", "#666", ly2]];
  for (const [label, c, ly] of items) {
    s.append("line").attr("x1", ML + lx - 13).attr("x2", ML + lx - 4).attr("y1", MT + ly).attr("y2", MT + ly)
      .attr("stroke", c).attr("stroke-width", 1);
    s.append("text").attr("x", ML + lx).attr("y", MT + ly).attr("dy", "0.35em").attr("text-anchor", "start")
      .attr("font-size", 7.5).attr("font-weight", "normal").attr("fill", "#333").text(label);
  }
  place(svg, axisX[col] - ML, plotTop[row] - MT);
}

for (let r = 0; r < 9; r++) {
  const kA = {t0: onsetA[r], dip: dipA[r], tR: riseA[r], tP: peakA[r], tM: midA[r], tEnd: endA[r]};
  const kAavg = {...kA, tEnd: avgEndA[r]};
  const kB = {t0: onsetB[r], dip: dipB[r], tR: riseB[r], tP: peakB[r], tM: midB[r], tEnd: endB[r]};
  const kBavg = {...kB, tEnd: avgEndB[r]};
  const [utA, exA, avA] = setsA[r];
  const [utB, exB, avB] = setsB[r];
  title("UT", titleX[0], titleY[r]);
  title(genes[r], titleX[1], titleY[r]);
  title("Average", titleX[2], titleY[r]);
  title("UT", titleX[3], titleY[r]);
  title(genes[r], titleX[4], titleY[r]);
  title("Average", titleX[5], titleY[r]);
  tracePanel(utA, kA, xMaxTrace[r], yMaxA[r], BLACK, nUTA[r], nPosUTA[r], 0, r);
  tracePanel(exA, kA, xMaxTrace[r], yMaxA[r], RED, nExpA[r], nPosExpA[r], 1, r);
  avgPanel(avA, kAavg, yMaxA[r], shortNames[r], legPosA[r], 2, r);
  tracePanel(utB, kB, xMaxTrace[r], yMaxB[r], BLACK, nUTB[r], nPosUTB[r], 3, r);
  tracePanel(exB, kB, xMaxTrace[r], yMaxB[r], RED, nExpB[r], nPosExpB[r], 4, r);
  avgPanel(avB, kBavg, yMaxB[r], shortNames[r], legPosB[r], 5, r);
}
</script></body></html>
